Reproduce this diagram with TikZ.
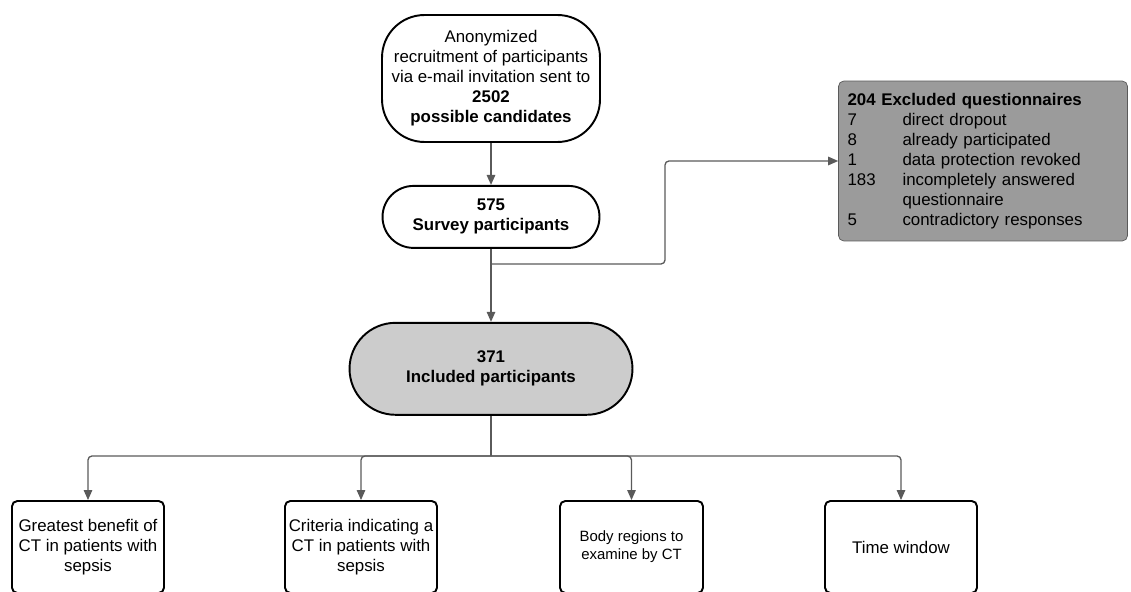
\documentclass[tikz,border=0pt]{standalone}
\usepackage{fontspec}
\setsansfont{Liberation Sans}
\usetikzlibrary{positioning}
\usetikzlibrary{arrows.meta}
\definecolor{myGray1}{RGB}{204,204,204}
\definecolor{myGray2}{RGB}{155,155,155}
\definecolor{myGray3}{RGB}{90,90,90}

\begin{document}
\begin{tikzpicture}[x=0.02cm,y=-0.02cm,>={Triangle[length=0.2cm,width=0.17cm]},
  every node/.style={font=\sffamily\fontsize{9.6}{11.4}\selectfont,align=center},
  start node/.style={rectangle,draw,line width=1.1pt,rounded corners=0.85cm,
  minimum width=4.36cm,minimum height=2.54cm,inner sep=0pt},
  pill node/.style={rectangle,draw,line width=1.1pt,inner sep=0pt,minimum width=4.34cm},
  excl box/.style={rectangle,draw=myGray3,fill=myGray2,rounded corners=3pt,align=left,
  text width=5.42cm,inner xsep=0.18cm,minimum height=3.2cm},
  topic box/.style={rectangle,draw,line width=1.1pt,rounded corners=3pt,
  minimum width=3.04cm,minimum height=1.84cm,inner sep=0pt},
  conn/.style={->,draw=myGray3,line width=0.75pt,rounded corners=0.08cm}]

\useasboundingbox (0,0) rectangle (1131,591);
\clip (0,0) rectangle (1131,591);

% The flow of participants
\node[start node] (start) at (491,78.5) {Anonymized\\recruitment of participants\\via e-mail invitation sent to\\\textbf{2502}\\\textbf{possible candidates}};
\node[pill node,minimum height=1.24cm,rounded corners=0.62cm] (survey) [below=0.84cm of start] {\textbf{575}\\\textbf{Survey participants}};
\node[pill node,minimum width=5.66cm,minimum height=1.84cm,rounded corners=0.92cm,fill=myGray1] (inc) [below=1.46cm of survey] {\textbf{371}\\\textbf{Included participants}};
\node[excl box] (excl) at (983,161) {\textbf{204 Excluded questionnaires}\\
\makebox[1.1cm][l]{7}direct dropout\\
\makebox[1.1cm][l]{8}already participated\\
\makebox[1.1cm][l]{1}data protection revoked\\
\makebox[1.1cm][l]{183}incompletely answered\\
\hspace*{1.1cm}questionnaire\\
\makebox[1.1cm][l]{5}contradictory responses};

% The questionnaire topics
\node[topic box] (q1) at (88,547) {Greatest benefit of\\CT in patients with\\sepsis};
\node[topic box] (q2) at (361,547) {Criteria indicating a\\CT in patients with\\sepsis};
\node[topic box,minimum width=2.86cm,font=\sffamily\fontsize{8.5}{10.2}\selectfont] (q3) at (631.5,547) {Body regions to\\examine by CT};
\node[topic box] (q4) at (901,547) {Time window};

\coordinate (split) at (491,264);
\coordinate (jog) at (665,264);
\coordinate (hub) at (491,456);

% The arrows between the nodes
\draw[conn] (start) -- (survey);
\draw[conn] (survey) -- (inc);
\draw[conn] (split) -- (jog) |- (excl);
\draw[conn,-] (inc) -- (hub);
\foreach \q in {q1,q2,q3,q4}
  \draw[conn] (hub) -| (\q);

\end{tikzpicture}
\end{document}
